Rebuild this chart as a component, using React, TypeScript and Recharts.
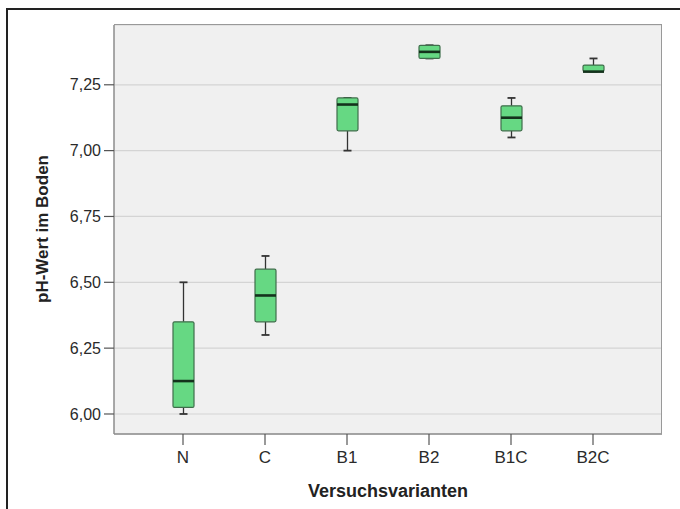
import { ComposedChart, Bar, XAxis, YAxis, CartesianGrid } from "recharts";

// pH values per variant
const categories = ["N", "C", "B1", "B2", "B1C", "B2C"];
const minVals = [6.0, 6.3, 7.0, 7.35, 7.05, 7.3];
const q1Vals = [6.025, 6.35, 7.075, 7.35, 7.075, 7.3];
const medVals = [6.125, 6.45, 7.175, 7.375, 7.125, 7.3];
const q3Vals = [6.35, 6.55, 7.2, 7.4, 7.17, 7.325];
const maxVals = [6.5, 6.6, 7.2, 7.4, 7.2, 7.35];
const yTicks = [6.0, 6.25, 6.5, 6.75, 7.0, 7.25];

const data = categories.map((name, i) => ({
  name,
  range: [minVals[i], maxVals[i]],
  min: minVals[i],
  q1: q1Vals[i],
  med: medVals[i],
  q3: q3Vals[i],
  max: maxVals[i],
}));

const FONT = "'Liberation Sans', Arial, sans-serif";

const BoxShape = (props: any) => {
  const { x, y, width, height, payload } = props;
  if (!payload) return null;
  const top = Math.min(y, y + height);
  const h = Math.abs(height);
  const k = h / (payload.max - payload.min);
  const py = (v: number) => top + (payload.max - v) * k;
  const cx = x + width / 2;
  const cap = 4;
  return (
    <g>
      <line x1={cx} x2={cx} y1={py(payload.max)} y2={py(payload.q3)} stroke="#333" strokeWidth={1.3} />
      <line x1={cx} x2={cx} y1={py(payload.q1)} y2={py(payload.min)} stroke="#333" strokeWidth={1.3} />
      <line x1={cx - cap} x2={cx + cap} y1={py(payload.max)} y2={py(payload.max)} stroke="#333" strokeWidth={1.8} />
      <line x1={cx - cap} x2={cx + cap} y1={py(payload.min)} y2={py(payload.min)} stroke="#333" strokeWidth={1.8} />
      <rect
        x={x}
        y={py(payload.q3)}
        width={width}
        height={Math.max(py(payload.q1) - py(payload.q3), 1)}
        fill="#66d883"
        stroke="#3f6e4b"
        strokeWidth={1.2}
        rx={1.5}
      />
      <line x1={x} x2={x + width} y1={py(payload.med)} y2={py(payload.med)} stroke="#14321c" strokeWidth={2.6} />
    </g>
  );
};

const fmt = (v: number) => v.toFixed(2).replace(".", ",");

export default function App() {
  return (
    <div
      style={{
        position: "absolute",
        left: 0,
        top: 0,
        width: 680,
        height: 509,
        overflow: "hidden",
        background: "#fff",
        fontFamily: FONT,
      }}
    >
      {/* outer frame */}
      <div
        style={{
          position: "absolute",
          left: 6,
          top: 8,
          width: 700,
          height: 520,
          borderLeft: "2px solid #222",
          borderTop: "2px solid #222",
        }}
      />
      <div style={{ position: "absolute", left: 0, top: 0 }}>
        <ComposedChart
          width={680}
          height={509}
          data={data}
          margin={{ top: 25, right: 18, bottom: 0, left: 0 }}
        >
          <CartesianGrid
            vertical={false}
            horizontal
            fill="#f0f0f0"
            stroke="#d4d4d4"
            strokeWidth={1.2}
          />
          <XAxis
            dataKey="name"
            height={75}
            padding={{ left: 28, right: 28 }}
            axisLine={{ stroke: "#8c8c8c", strokeWidth: 1.5 }}
            tickLine={{ stroke: "#555", strokeWidth: 1.2 }}
            tickSize={11}
            tickMargin={6}
            tick={{ fill: "#2a2a2a", fontSize: 17, fontFamily: FONT }}
            label={{
              content: () => (
                <text
                  x={388}
                  y={497}
                  textAnchor="middle"
                  fill="#222"
                  fontSize={18}
                  fontWeight="bold"
                  fontFamily={FONT}
                >
                  Versuchsvarianten
                </text>
              ),
            }}
          />
          <YAxis
            type="number"
            width={114}
            domain={[5.924, 7.477]}
            allowDataOverflow
            ticks={yTicks}
            tickFormatter={fmt}
            axisLine={{ stroke: "#8c8c8c", strokeWidth: 1.5 }}
            tickLine={{ stroke: "#555", strokeWidth: 1.2 }}
            tickSize={10}
            tickMargin={3}
            tick={{ fill: "#2a2a2a", fontSize: 16, fontFamily: FONT }}
            label={{
              content: () => (
                <text
                  x={48}
                  y={229}
                  transform="rotate(-90 48 229)"
                  textAnchor="middle"
                  fill="#222"
                  fontSize={17}
                  fontWeight="bold"
                  fontFamily={FONT}
                >
                  pH-Wert im Boden
                </text>
              ),
            }}
          />
          <Bar
            dataKey="range"
            barSize={21}
            shape={BoxShape}
            isAnimationActive={false}
          />
        </ComposedChart>
      </div>
      {/* plot-area border */}
      <div
        style={{
          position: "absolute",
          left: 114,
          top: 24,
          width: 547,
          height: 409,
          border: "1.5px solid #999",
          borderBottom: "none",
          borderLeft: "none",
          pointerEvents: "none",
        }}
      />
    </div>
  );
}
